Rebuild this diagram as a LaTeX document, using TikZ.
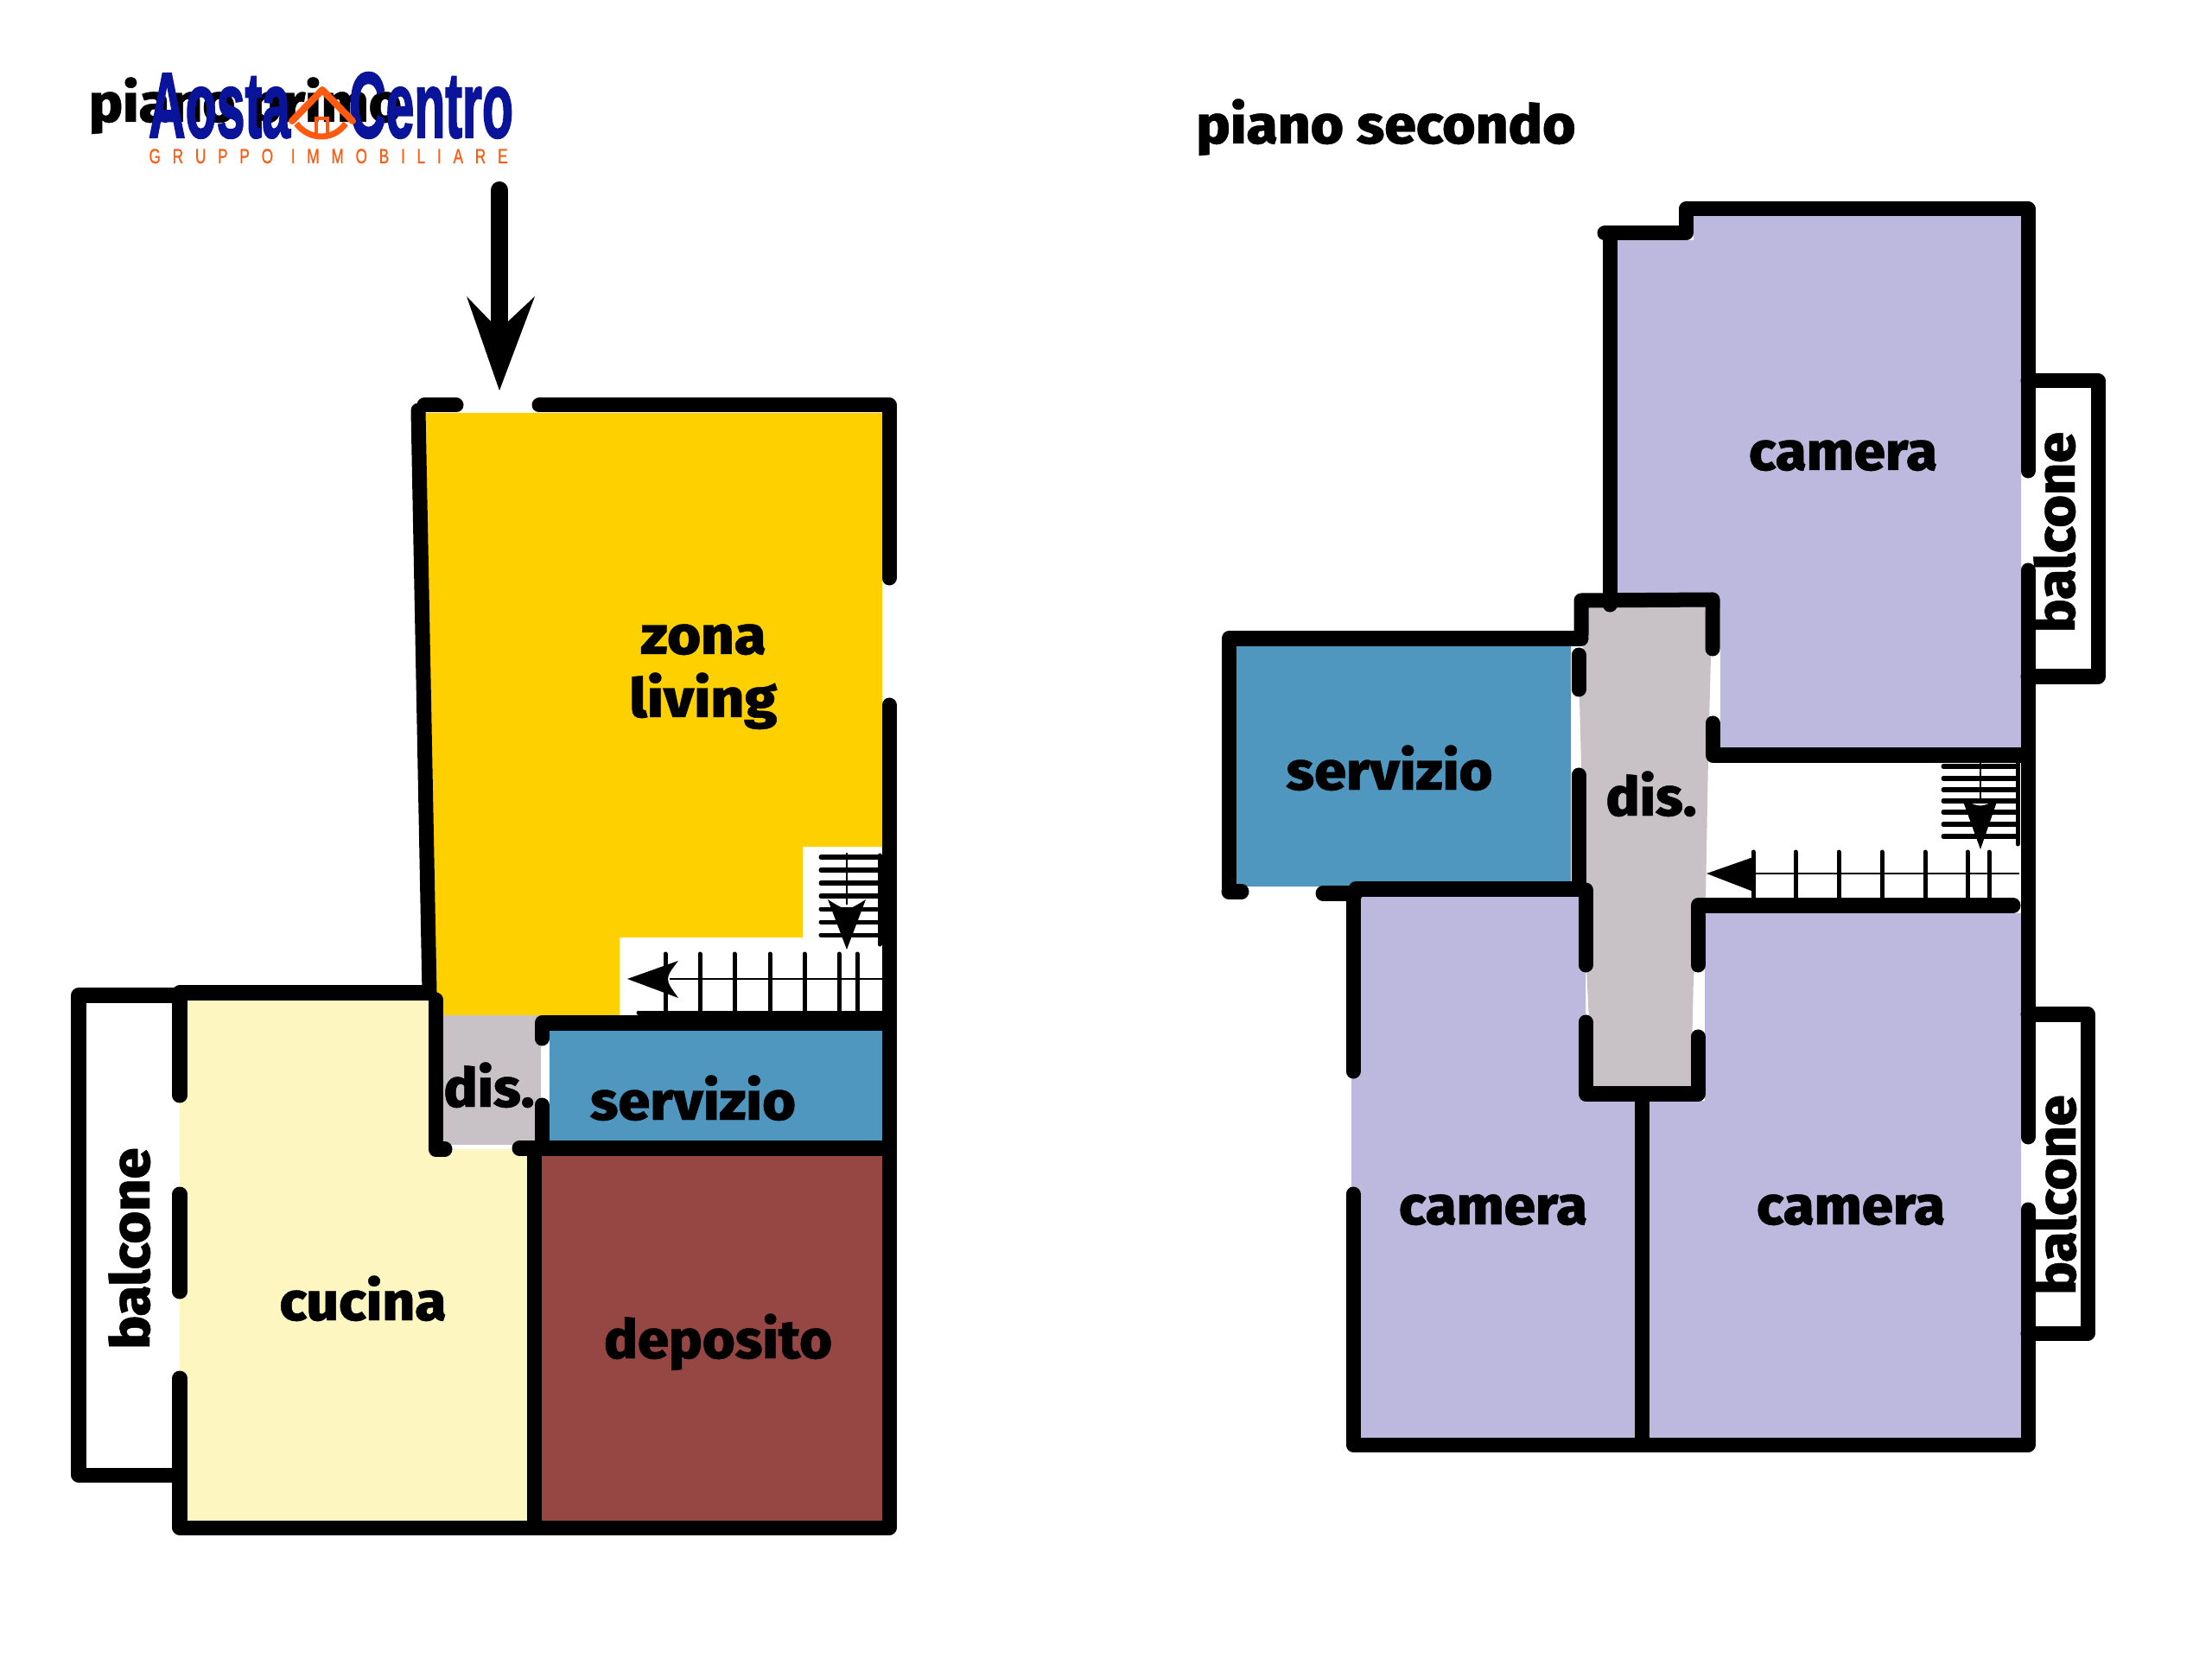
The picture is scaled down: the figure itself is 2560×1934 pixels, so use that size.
\documentclass[tikz,border=0pt]{standalone}
\usepackage{fontspec}
\setmainfont{Fira Sans}[BoldFont={Fira Sans ExtraBold},BoldFeatures={FakeBold=0.7}]
\newfontfamily\logofont{Liberation Sans}[BoldFeatures={FakeBold=2.2}]
\newfontfamily\gruppofont{Liberation Sans}[FakeBold=0.8,LetterSpace=80]

\definecolor{giallo}{HTML}{FFD000}
\definecolor{crema}{HTML}{FEF6C0}
\definecolor{mattone}{HTML}{964744}
\definecolor{azzurro}{HTML}{4F97BF}
\definecolor{grigio}{HTML}{C8C1C6}
\definecolor{lilla}{HTML}{BDB9DE}
\definecolor{blulogo}{HTML}{0A149A}
\definecolor{arancio}{HTML}{FF5A10}

\newlength\pxu
\setlength\pxu{0.01cm}
\newcommand{\largo}[2]{\resizebox{#1\pxu}{.95\height}{#2}}

\tikzset{
  muro/.style={line width=.17cm,line cap=round,line join=round},
  gradino/.style={line width=.05cm,line cap=round},
  guida/.style={line width=.028cm},
  etic/.style={anchor=base,inner sep=0pt,font=\fontsize{18.8}{20}\selectfont\bfseries},
  logotxt/.style={anchor=base,inner sep=0pt,text=blulogo,font=\logofont\bfseries\fontsize{30.6}{32}\selectfont},
}

\begin{document}
\begin{tikzpicture}[x=0.01cm,y=-0.01cm]
    \useasboundingbox (0,0) rectangle (2560,1934);

    % Piano primo: riempimenti delle stanze.
    \fill[giallo] (492,478) -- (1021,478) -- (1021,980) -- (929,980) -- (929,1085) -- (717,1085) -- (717,1175) -- (505,1175) -- cycle;
    \fill[crema] (208,1149) -- (504,1149) -- (504,1330) -- (612,1330) -- (612,1768) -- (208,1768) -- cycle;
    \fill[grigio] (504,1175) rectangle (626,1325);
    \fill[azzurro] (636,1190) rectangle (1021,1321);
    \fill[mattone] (620,1337) rectangle (1021,1762);

    % Piano primo: muri.
    \draw[muro] (491,469) -- (528,469);
    \draw[muro] (624,469) -- (1029,469) -- (1029,669);
    \draw[muro] (1029,816) -- (1029,1768) -- (208,1768) -- (208,1595);
    \draw[muro] (208,1382) -- (208,1495);
    \draw[muro] (208,1268) -- (208,1149) -- (497,1149);
    \draw[muro] (210,1152) -- (91,1152) -- (91,1707) -- (208,1707);
    \draw[muro] (484,475) -- (497,1149);
    \draw[muro] (504,1157) -- (504,1330) -- (515,1330);
    \draw[muro] (601,1329) -- (1029,1329);
    \draw[muro] (618,1329) -- (618,1760);
    \draw[muro] (1029,1184) -- (627,1184) -- (627,1202);
    \draw[muro] (627,1279) -- (627,1329);

    % Freccia di ingresso.
    \draw[line width=.2cm,line cap=round] (578,220) -- (578,380);
    \fill (578,452) -- (540,343) -- (568,372) -- (588,372) -- (619,343) -- cycle;

    % Piano primo: scala.
    \draw[guida] (775,1133) -- (1021,1133);
    \foreach \xg in {770,810,850,891,931,971,992}
        \draw[gradino] (\xg,1104) -- (\xg,1172);
    \draw[gradino] (739,1172) -- (1021,1172);
    \fill (726,1133) -- (785,1112) .. controls (769,1133) .. (785,1155) -- cycle;
    \draw[guida] (980,987) -- (980,1047);
    \foreach \yg in {992,1007,1022,1037,1052,1067,1082}
        \draw[gradino] (950,\yg) -- (1017,\yg);
    \draw[gradino] (1018,990) -- (1018,1093);
    \fill (980,1099) -- (958,1041) .. controls (980,1055) .. (1002,1041) -- cycle;

    % Piano secondo: riempimenti delle stanze.
    \fill[lilla] (1871,278) -- (1960,278) -- (1960,250) -- (2339,250) -- (2339,866) -- (1991,866) -- (1991,703) -- (1871,703) -- cycle;
    \fill[lilla] (1564,1038) -- (1835,1038) -- (1835,1266) -- (1900,1266) -- (1900,1665) -- (1564,1665) -- cycle;
    \fill[lilla] (1973,1057) -- (2339,1057) -- (2339,1665) -- (1900,1665) -- (1900,1274) -- (1973,1274) -- cycle;
    \fill[grigio] (1835,703) -- (1973,703) -- (1980,760) -- (1977,875) -- (1974,1040) -- (1960,1130) -- (1957,1262) -- (1843,1262) -- (1836,1120) -- (1828,810) -- cycle;
    \fill[azzurro] (1431,748) -- (1818,748) -- (1818,1020) -- (1569,1020) -- (1569,1026) -- (1431,1026) -- cycle;

    % Piano secondo: muri.
    \draw[muro] (1857,270) -- (1951,270) -- (1951,242) -- (2347,242) -- (2347,545);
    \draw[muro] (2347,660) -- (2347,1316);
    \draw[muro] (2347,1400) -- (2347,1672) -- (1566,1672) -- (1566,1382);
    \draw[muro] (1566,1240) -- (1566,1034);
    \draw[muro] (1531,1034) -- (1569,1034);
    \draw[muro] (1569,1029) -- (1830,1029);
    \draw[muro] (1863,270) -- (1863,700);
    \draw[muro] (1830,735) -- (1830,695) -- (1982,694) -- (1982,751);
    \draw[muro] (1982,837) -- (1982,874) -- (2347,874);
    \draw[muro] (1830,739) -- (1422,739) -- (1422,1030);
    \draw[muro] (1422,1032) -- (1437,1032);
    \draw[muro] (1827,758) -- (1827,798);
    \draw[muro] (1827,897) -- (1827,1029);
    \draw[muro] (1835,1030) -- (1835,1117);
    \draw[muro] (1835,1183) -- (1835,1266) -- (1965,1266) -- (1965,1200);
    \draw[muro] (1965,1117) -- (1965,1048) -- (2330,1048);
    \draw[muro] (1900,1266) -- (1900,1665);
    \draw[muro] (2347,441) -- (2428,441) -- (2428,783) -- (2347,783);
    \draw[muro] (2347,1174) -- (2416,1174) -- (2416,1543) -- (2347,1543);

    % Piano secondo: scala.
    \draw[guida] (2025,1011) -- (2337,1011);
    \foreach \xg in {2029,2078,2128,2178,2228,2277,2302}
        \draw[gradino] (\xg,986) -- (\xg,1040);
    \fill (1975,1011) -- (2032,991) .. controls (2030,1011) .. (2032,1033) -- cycle;
    \draw[guida] (2292,875) -- (2292,925);
    \foreach \yg in {887,901,914,927,940,954,968}
        \draw[gradino] (2249,\yg) -- (2335,\yg);
    \draw[gradino] (2335,882) -- (2335,977);
    \fill (2292,983) -- (2271,925) .. controls (2292,935) .. (2312,925) -- cycle;

    % Titoli e logo.
    \node[etic] (titprimo) at (284,141) {\largo{362}{piano primo}};
    \node[etic] (titsecondo) at (1604,166) {\largo{439}{piano secondo}};
    \node[logotxt] (aosta) at (254,159) {\resizebox{164\pxu}{\height}{Aosta}};
    \node[logotxt] (centro) at (499,159) {\resizebox{190\pxu}{\height}{Centro}};
    \node[anchor=base,inner sep=0pt,text=arancio,font=\gruppofont\fontsize{6.8}{8}\selectfont] (gruppo) at (380,189) {\resizebox{415\pxu}{\height}{GRUPPO\hspace{1.2em}IMMOBILIARE}};
    \draw[arancio,line width=.08cm,line cap=round,line join=round] (338,140) -- (373,104) -- (408,140);
    \draw[arancio,line width=.07cm] (343,143) .. controls (358,163) and (386,163) .. (400,143);
    \draw[arancio,line width=.04cm] (366,156) -- (366,137) -- (379,137) -- (379,156);

    % Nomi delle stanze del piano primo.
    \node[etic] (zona) at (814,757) {\largo{145}{zona}};
    \node[etic] (living) at (814,830) {\largo{171}{living}};
    \node[etic] (dis1) at (566,1281) {\largo{105}{dis.}};
    \node[etic] (serv1) at (802,1296) {\largo{238}{servizio}};
    \node[etic] (cucina) at (420,1528) {\largo{193}{cucina}};
    \node[etic] (deposito) at (831,1572) {\largo{264}{deposito}};
    \node[etic,rotate=90] (balc1) at (173,1445) {\largo{233}{balcone}};

    % Nomi delle stanze del piano secondo.
    \node[etic] (cam1) at (2133,544) {\largo{218}{camera}};
    \node[etic,rotate=90] (balc2) at (2401,616) {\largo{232}{balcone}};
    \node[etic] (serv2) at (1608,914) {\largo{239}{servizio}};
    \node[etic] (dis2) at (1911,944) {\largo{105}{dis.}};
    \node[etic] (cam2) at (1728,1417) {\largo{218}{camera}};
    \node[etic] (cam3) at (2142,1417) {\largo{218}{camera}};
    \node[etic,rotate=90] (balc3) at (2402,1383) {\largo{231}{balcone}};
\end{tikzpicture}
\end{document}
